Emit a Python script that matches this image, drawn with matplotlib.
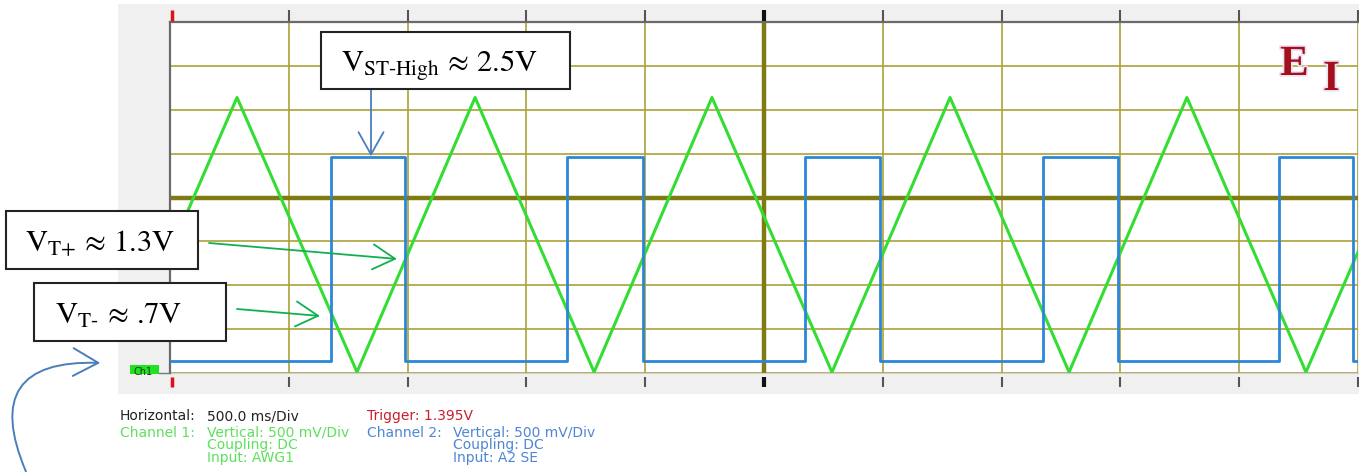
import numpy as np
import matplotlib
matplotlib.use("Agg")
import matplotlib.pyplot as plt
import matplotlib.transforms as mtrans
import matplotlib.patheffects as pe
from matplotlib.patches import Rectangle, FancyArrowPatch

plt.rcParams['mathtext.fontset'] = 'stix'

W, H = 1359, 472

# channel 1: triangle wave (AWG1), vertices (s, V)
tri_t = [0.0, 0.282, 0.787, 1.284, 1.785, 2.281, 2.786, 3.283, 3.784, 4.280, 4.781, 5.0]
tri_v = [1.38, 3.14, 0.01, 3.14, 0.01, 3.14, 0.01, 3.14, 0.01, 3.14, 0.01, 1.38]

# channel 2: schmitt trigger output edges (s) and levels (V)
sq_rise = [0.678, 1.671, 2.673, 3.674, 4.668]
sq_fall = [0.989, 1.991, 2.988, 3.990, 4.979]
sq_low = 0.14
sq_high = 2.46

# callouts: text, arrow tip (s, V)
lbl_high = r'$\mathrm{V_{ST\text{-}High}}\,\approx\,\text{2.5V}$'
lbl_tp = r'$\mathrm{V_{T{+}}}\,\approx\,\text{1.3V}$'
lbl_tm = r'$\mathrm{V_{T\text{-}}}\,\approx\,\text{.7V}$'
tip_high = (0.846, 2.47)
tip_tp = (0.955, 1.30)
tip_tm = (0.631, 0.65)

# scope settings readout
hor_lines = ['Horizontal:', '500.0 ms/Div']
trig_line = 'Trigger: 1.395V'
ch1_lines = ['Vertical: 500 mV/Div', 'Coupling: DC', 'Input: AWG1']
ch2_lines = ['Vertical: 500 mV/Div', 'Coupling: DC', 'Input: A2 SE']

# build the step trace from the edges
sq_t = [0.0]
sq_v = [sq_low]
for r, f in zip(sq_rise, sq_fall):
    sq_t += [r, r, f, f]
    sq_v += [sq_low, sq_high, sq_high, sq_low]
sq_t.append(5.0)
sq_v.append(sq_low)

fig = plt.figure(figsize=(W / 100, H / 100), dpi=100)

# grey scope panel
bg = fig.add_axes([0, 0, 1, 1], zorder=0)
bg.set_xlim(0, W)
bg.set_ylim(H, 0)
bg.axis('off')
bg.add_patch(Rectangle((118, 4), W - 118, 390, fc='#f0f0f0', ec='none'))

# screen
ax = fig.add_axes([170 / W, (H - 373) / H, 1188 / W, 351 / H], zorder=1)
ax.set_xlim(0, 5)
ax.set_ylim(0, 4)
ax.set_xticks(np.arange(0, 5.01, 0.5))
ax.set_yticks(np.arange(0, 4.01, 0.5))
ax.tick_params(length=0, labelbottom=False, labelleft=False)
ax.grid(True, color='#aaa23a', lw=1.2)
ax.axhline(2.0, color='#7f7a12', lw=3.2)
ax.axvline(2.5, color='#7f7a12', lw=3.2)
for s in ['left', 'top']:
    ax.spines[s].set_color('#6a6a6a')
    ax.spines[s].set_linewidth(1.6)
ax.spines['bottom'].set_color('#d0d0d0')
ax.spines['right'].set_visible(False)

ax.plot(tri_t, tri_v, color='#33dd33', lw=2.2, zorder=3)
ax.plot(sq_t, sq_v, color='#2a86d8', lw=2.0, zorder=4)

# overlay in pixel coordinates
ov = fig.add_axes([0, 0, 1, 1], zorder=3)
ov.set_xlim(0, W)
ov.set_ylim(H, 0)
ov.axis('off')
ov.patch.set_alpha(0)

blend = mtrans.blended_transform_factory(ax.transData, ov.transData)
div = np.arange(0, 5.01, 0.5)
tcol = ['#555555'] * len(div)
tcol[0] = '#e0101a'
tcol[5] = '#111111'
tw = [1.5] * len(div)
tw[0] = 2.5
tw[5] = 3.0
xs = div.copy()
xs[0] = 0.01
ov.vlines(xs, 10, 21, colors=tcol, lw=tw, transform=blend, clip_on=False)
ov.vlines(xs, 377, 387, colors=tcol, lw=tw, transform=blend, clip_on=False)

# Ch1 ground marker
ov.add_patch(Rectangle((130, 365), 29, 9, fc='#22e022', ec='none'))
ov.text(133, 375, 'Ch1', fontsize=7, color='#104010', va='baseline')
ov.plot([159, 170], [373, 373], color='#777777', lw=1)

# callout boxes
for (x, y, w, h) in [(321, 32, 249, 57), (6, 211, 192, 58), (34, 283, 192, 58)]:
    ov.add_patch(Rectangle((x, y), w, h, fc='white', ec='#222222', lw=1.5, zorder=5))
ov.text(341, 72, lbl_high, fontsize=22, va='baseline', zorder=6)
ov.text(25, 252, lbl_tp, fontsize=22, va='baseline', zorder=6)
ov.text(55, 324, lbl_tm, fontsize=22, va='baseline', zorder=6)

head = '->,head_length=0.8,head_width=0.45'
ov.annotate('', xy=tip_high, xycoords=ax.transData, xytext=(371, 89), textcoords=ov.transData,
            arrowprops=dict(arrowstyle=head, color='#4a7ebb', lw=1.3, shrinkA=0, shrinkB=0,
                            mutation_scale=20))
ov.annotate('', xy=tip_tp, xycoords=ax.transData, xytext=(209, 243), textcoords=ov.transData,
            arrowprops=dict(arrowstyle=head, color='#10b050', lw=1.3, shrinkA=0, shrinkB=0,
                            mutation_scale=20))
ov.annotate('', xy=tip_tm, xycoords=ax.transData, xytext=(237, 309), textcoords=ov.transData,
            arrowprops=dict(arrowstyle=head, color='#10b050', lw=1.3, shrinkA=0, shrinkB=0,
                            mutation_scale=20))

curve = FancyArrowPatch((27, 474), (103, 363), connectionstyle='arc3,rad=-0.8',
                        arrowstyle='->,head_length=0.9,head_width=0.5', mutation_scale=20,
                        color='#4a7ebb', lw=1.4, transform=ov.transData, clip_on=False)
ov.add_patch(curve)

# logo
glow = [pe.withStroke(linewidth=2.5, foreground='#ece2f4')]
ov.text(1280, 75, 'E', fontfamily='Liberation Serif', fontweight='bold', fontsize=31,
        color='#a50f1c', va='baseline', path_effects=glow)
ov.text(1323, 90, 'I', fontfamily='Liberation Serif', fontweight='bold', fontsize=31,
        color='#a50f1c', va='baseline', path_effects=glow)

# settings readout
fs = 10
ov.text(120, 420, hor_lines[0], fontsize=fs, color='#222222', va='baseline')
ov.text(207, 420, hor_lines[1], fontsize=fs, color='#222222', va='baseline')
ov.text(367, 420, trig_line, fontsize=fs, color='#c8202e', va='baseline')
ov.text(120, 437, 'Channel 1:', fontsize=fs, color='#5ee05e', va='baseline')
ov.text(367, 437, 'Channel 2:', fontsize=fs, color='#4f86d4', va='baseline')
for i, (a, b) in enumerate(zip(ch1_lines, ch2_lines)):
    ov.text(207, 437 + 12.5 * i, a, fontsize=fs, color='#5ee05e', va='baseline')
    ov.text(453, 437 + 12.5 * i, b, fontsize=fs, color='#4f86d4', va='baseline')

fig.savefig('out.png', dpi=100)
